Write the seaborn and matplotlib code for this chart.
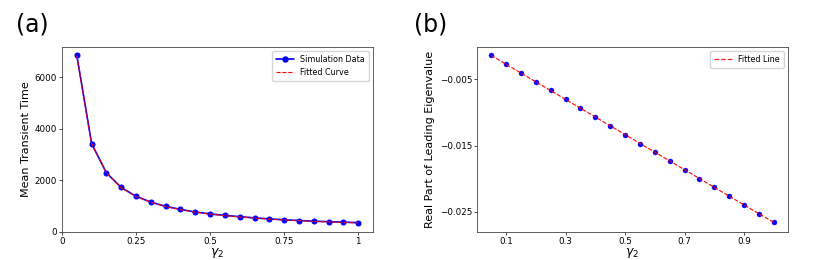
import numpy as np
import pandas as pd
import matplotlib
matplotlib.use("Agg")
import matplotlib.pyplot as plt
from matplotlib.lines import Line2D
import seaborn as sns

# gamma_2 values (shared by both panels)
gamma2 = [0.05, 0.10, 0.15, 0.20, 0.25, 0.30, 0.35, 0.40, 0.45, 0.50,
          0.55, 0.60, 0.65, 0.70, 0.75, 0.80, 0.85, 0.90, 0.95, 1.00]

# panel (a): mean transient time
transient_sim = [6860, 3430, 2295, 1728, 1385, 1160, 995, 877, 778, 703,
                 645, 594, 548, 508, 474, 446, 420, 400, 382, 363]
transient_fit = [6855, 3425, 2290, 1720, 1378, 1152, 988, 868, 770, 694,
                 634, 583, 538, 500, 467, 438, 413, 391, 372, 354]

# panel (b): real part of leading eigenvalue
eig_sim = [-0.00135, -0.00270, -0.00400, -0.00535, -0.00665, -0.00800, -0.00935,
           -0.01070, -0.01200, -0.01335, -0.01470, -0.01600, -0.01735, -0.01865,
           -0.02000, -0.02135, -0.02265, -0.02400, -0.02530, -0.02665]
eig_fit = [-0.00135, -0.00269, -0.00402, -0.00535, -0.00668, -0.00801, -0.00935,
           -0.01068, -0.01201, -0.01334, -0.01468, -0.01601, -0.01734, -0.01867,
           -0.02000, -0.02134, -0.02267, -0.02400, -0.02533, -0.02665]

a_ticks = [0, 0.25, 0.5, 0.75, 1]
a_ticklabels = ["0", "0.25", "0.5", "0.75", "1"]
b_xticks = [0.1, 0.3, 0.5, 0.7, 0.9]
b_yticks = [-0.005, -0.015, -0.025]

df = pd.DataFrame({
    "gamma2": gamma2,
    "sim": transient_sim,
    "fit": transient_fit,
    "eig": eig_sim,
    "eig_fit": eig_fit,
})

sns.set_style("white")
plt.rcParams["font.family"] = ["DejaVu Sans"]
plt.rcParams["axes.edgecolor"] = "#444444"
plt.rcParams["axes.linewidth"] = 0.6
plt.rcParams["text.color"] = "black"
plt.rcParams["axes.labelcolor"] = "black"
plt.rcParams["xtick.color"] = "black"
plt.rcParams["ytick.color"] = "black"

fig = plt.figure(figsize=(8.3, 2.6), dpi=100)
ax1 = fig.add_axes([0.0747, 0.1077, 0.3747, 0.7115])
ax2 = fig.add_axes([0.5747, 0.1077, 0.3747, 0.7115])

tick_fs = 6.3
legend_fs = 5.8
label_fs = 8

# (a)
sns.lineplot(data=df, x="gamma2", y="sim", ax=ax1, color="blue", marker="o",
             markersize=3.6, markeredgecolor="blue", linewidth=1.2)
sns.lineplot(data=df, x="gamma2", y="fit", ax=ax1, color="red",
             linestyle="--", linewidth=0.8)
ax1.set_xlim(0, 1.05)
ax1.set_ylim(0, 7180)
ax1.set_xticks(a_ticks)
ax1.set_xticklabels(a_ticklabels)
ax1.set_yticks([0, 2000, 4000, 6000])
ax1.set_xlabel(r"$\gamma_2$", fontsize=9, labelpad=0)
ax1.set_ylabel("Mean Transient Time", fontsize=label_fs, labelpad=3)
sim_handle = Line2D([], [], color="blue", marker="o", markersize=3.6,
                    linewidth=1.2)
fit_handle_a = Line2D([], [], color="red", linestyle="--", linewidth=0.8)
ax1.legend([sim_handle, fit_handle_a], ["Simulation Data", "Fitted Curve"],
           loc="upper right", fontsize=legend_fs, handlelength=2.2,
           borderpad=0.5, labelspacing=0.5, framealpha=0.8)

# (b)
sns.scatterplot(data=df, x="gamma2", y="eig", ax=ax2, color="blue", s=13,
                edgecolor="blue", linewidth=0.3, zorder=2)
sns.lineplot(data=df, x="gamma2", y="eig_fit", ax=ax2, color="red",
             linestyle="--", linewidth=0.8, zorder=3)
ax2.set_xlim(0.0025, 1.0475)
ax2.set_ylim(-0.0281, -0.00008)
ax2.set_xticks(b_xticks)
ax2.set_yticks(b_yticks)
ax2.set_xlabel(r"$\gamma_2$", fontsize=9, labelpad=0)
ax2.set_ylabel("Real Part of Leading Eigenvalue", fontsize=label_fs, labelpad=3)
fit_handle_b = Line2D([], [], color="#ff2020", linestyle="--", linewidth=0.9)
ax2.legend([fit_handle_b], ["Fitted Line"], loc="upper right", fontsize=legend_fs,
           handlelength=2.2, borderpad=0.5, framealpha=0.8)

for ax in (ax1, ax2):
    ax.tick_params(labelsize=tick_fs, length=2, width=0.5, pad=1.5,
                   left=True, bottom=True)
    for sp in ax.spines.values():
        sp.set_visible(True)

fig.text(0.019, 0.905, "(a)", fontsize=17, va="center", ha="left")
fig.text(0.499, 0.905, "(b)", fontsize=17, va="center", ha="left")

plt.savefig("out.png", dpi=100)
